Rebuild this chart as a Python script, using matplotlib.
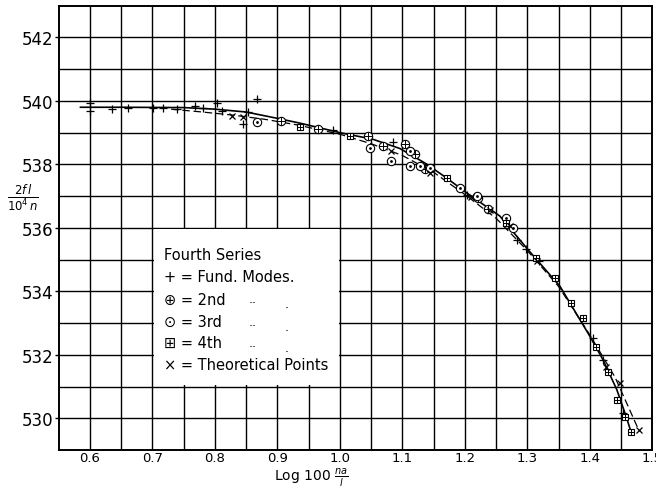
import matplotlib
matplotlib.use("Agg")
import matplotlib.pyplot as plt
from matplotlib.patches import Rectangle

# ---- data ----
exp_curve_x = [0.585, 0.65, 0.75, 0.80, 0.85, 0.90, 0.936, 1.0, 1.053, 1.096, 1.138,
               1.170, 1.203, 1.256, 1.301, 1.352, 1.40, 1.421, 1.443, 1.458, 1.466]
exp_curve_y = [539.80, 539.80, 539.79, 539.74, 539.65, 539.45, 539.30, 539.00, 538.79,
               538.50, 538.02, 537.58, 537.10, 536.37, 535.31, 534.16, 532.58, 531.84,
               530.90, 530.05, 529.55]

theo_curve_x = [0.73, 0.78, 0.83, 0.88, 0.93, 1.0, 1.05, 1.10, 1.15, 1.20, 1.25,
                1.30, 1.35, 1.40, 1.44, 1.478]
theo_curve_y = [539.74, 539.65, 539.55, 539.42, 539.25, 538.95, 538.65, 538.28, 537.75,
                537.05, 536.30, 535.28, 534.15, 532.62, 531.30, 529.63]

fund_x = [0.600, 0.600, 0.635, 0.661, 0.701, 0.717, 0.739, 0.768, 0.781, 0.803, 0.811,
          0.845, 0.853, 0.867, 0.989, 1.085, 1.203, 1.283, 1.297, 1.318, 1.405, 1.421, 1.453]
fund_y = [539.93, 539.68, 539.76, 539.79, 539.79, 539.79, 539.76, 539.84, 539.79, 539.93,
          539.68, 539.26, 539.65, 540.05, 539.08, 538.69, 537.05, 535.63, 535.32, 534.95,
          532.53, 531.84, 530.16]

second_x = [0.905, 0.965, 1.045, 1.069, 1.104, 1.120, 1.136, 1.221, 1.237]
second_y = [539.37, 539.13, 538.90, 538.58, 538.63, 538.32, 537.84, 536.95, 536.58]

third_x = [0.867, 1.048, 1.082, 1.112, 1.112, 1.128, 1.144, 1.192, 1.219, 1.266, 1.277]
third_y = [539.32, 538.53, 538.10, 538.42, 537.95, 537.95, 537.90, 537.27, 537.00, 536.32, 536.00]

fourth_x = [0.936, 1.016, 1.171, 1.266, 1.313, 1.344, 1.370, 1.389, 1.410, 1.429, 1.443,
            1.456, 1.466]
fourth_y = [539.18, 538.90, 537.58, 536.16, 535.05, 534.42, 533.63, 533.16, 532.24,
            531.47, 530.58, 530.05, 529.58]

theo_x = [0.827, 0.845, 1.082, 1.144, 1.210, 1.240, 1.272, 1.316, 1.425, 1.448, 1.478]
theo_y = [539.52, 539.48, 538.42, 537.74, 536.98, 536.55, 536.05, 534.95, 531.60, 531.10, 529.63]

x_ticks = [0.6, 0.7, 0.8, 0.9, 1.0, 1.1, 1.2, 1.3, 1.4, 1.5]
x_tick_labels = ["0.6", "0.7", "0.8", "0.9", "1.0", "1.1", "1.2", "1.3", "1.4", "1.5"]
y_ticks = [530, 532, 534, 536, 538, 540, 542]
y_tick_labels = ["530", "532", "534", "536", "538", "540", "542"]

legend_title = "Fourth Series"
legend_lines = ["+ = Fund. Modes.", "\u2295 = 2nd", "\u2299 = 3rd", "\u229e = 4th",
                "\u00d7 = Theoretical Points"]

# ---- figure ----
fig = plt.figure(figsize=(6.56, 4.89), dpi=100)
ax = fig.add_axes([0.0893, 0.0777, 0.9053, 0.9086])
ax.set_xlim(0.55, 1.5)
ax.set_ylim(529, 543)

# grid
for gx in [0.55 + 0.05 * i for i in range(1, 19)]:
    ax.axvline(gx, color="black", lw=1.0, zorder=1)
for gy in range(530, 543):
    ax.axhline(gy, color="black", lw=1.0, zorder=1)

# legend box (white, bordered by grid lines)
ax.add_patch(Rectangle((0.702, 531.04), 0.296, 4.92, facecolor="white",
                       edgecolor="none", zorder=2))

# curves
ax.plot(exp_curve_x, exp_curve_y, color="black", lw=1.2, zorder=3)
ax.plot(theo_curve_x, theo_curve_y, color="black", lw=0.9, ls=(0, (6, 3)), zorder=3)

# points
mk = dict(color="black", ls="none", zorder=4)
ax.plot(fund_x, fund_y, marker="+", ms=6, mew=0.9, **mk)
ax.plot(second_x, second_y, marker="o", ms=6, mfc="white", mew=0.8, **mk)
ax.plot(second_x, second_y, marker="+", ms=6, mew=0.7, **mk)
ax.plot(third_x, third_y, marker="o", ms=6, mfc="white", mew=0.8, **mk)
ax.plot(third_x, third_y, marker=".", ms=2, **mk)
ax.plot(fourth_x, fourth_y, marker="s", ms=5, mfc="white", mew=0.8, **mk)
ax.plot(fourth_x, fourth_y, marker="+", ms=5, mew=0.7, **mk)
ax.plot(theo_x, theo_y, marker="x", ms=4.5, mew=0.9, **mk)

# axes styling
for s in ax.spines.values():
    s.set_linewidth(1.4)
    s.set_color("black")
ax.set_xticks(x_ticks)
ax.set_xticklabels(x_tick_labels, fontsize=9.5,
                   family=["Liberation Sans Narrow", "DejaVu Sans"])
ax.set_yticks(y_ticks)
ax.set_yticklabels(y_tick_labels, fontsize=12,
                   family=["Liberation Sans Narrow", "DejaVu Sans"])
ax.tick_params(axis="x", length=0, pad=1)
ax.tick_params(axis="y", length=3, width=1, pad=1, direction="out")

# legend text
ax.text(0.7186, 535.16, legend_title, fontsize=10.5, va="center", ha="left", zorder=5)
leg_y = [534.46, 533.76, 533.05, 532.38, 531.68]
for ty, t in zip(leg_y, legend_lines):
    ax.text(0.7186, ty, t, fontsize=10.5, va="center", ha="left", zorder=5)
for ty in leg_y[1:4]:
    ax.text(0.861, ty, "..", fontsize=9, va="center", ha="center", zorder=5)
    ax.text(0.914, ty - 0.15, ".", fontsize=9, va="center", ha="center", zorder=5)

# axis labels
fig.text(0.035, 0.595, r"$\frac{2f\,l}{10^4\,n}$", fontsize=12, ha="center", va="center")
fig.text(0.474, 0.0, r"Log 100 $\frac{na}{l}$", fontsize=10, ha="center", va="bottom")

fig.savefig("out.png", dpi=100)
